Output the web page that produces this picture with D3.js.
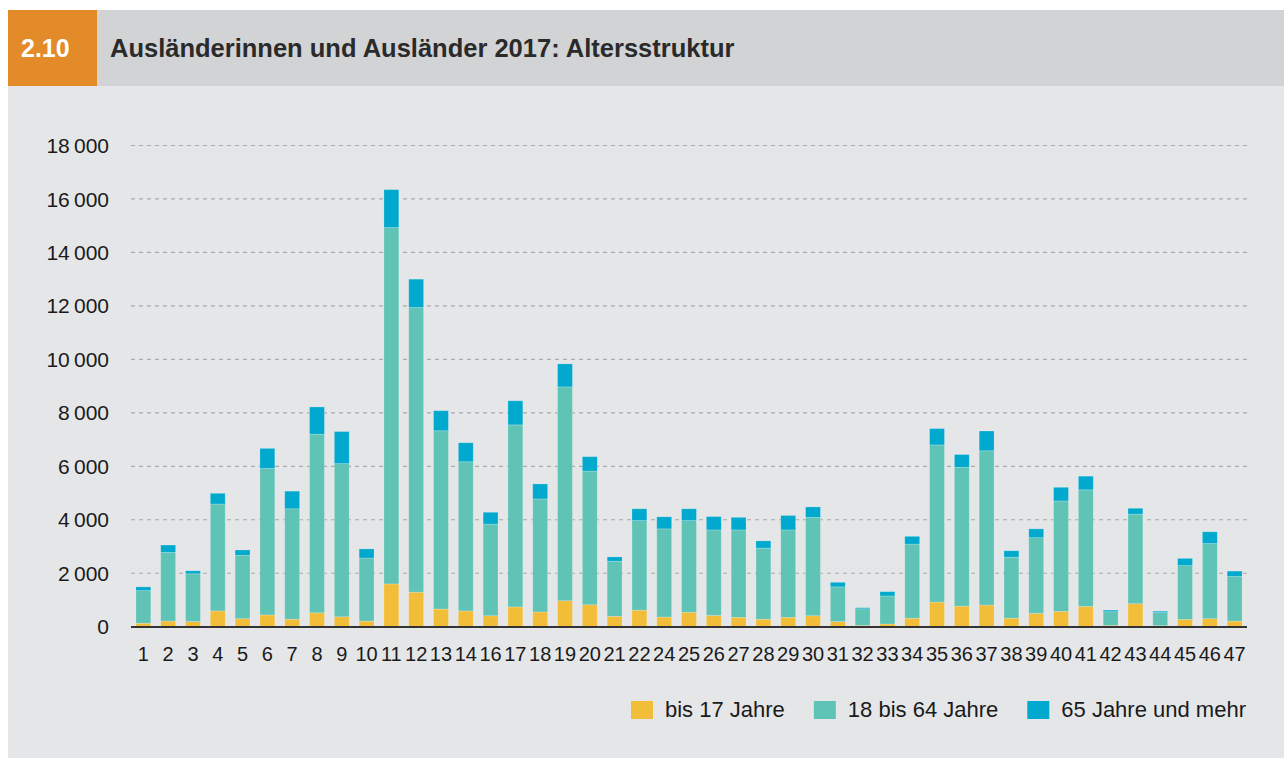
<!DOCTYPE html>
<html>
<head>
<meta charset="utf-8">
<title>Ausländerinnen und Ausländer 2017</title>
<script src="https://cdn.jsdelivr.net/npm/d3@7"></script>
<style>
  body { margin: 0; background: #fff; }
  text { font-family: "Liberation Sans", Arial, sans-serif; }
</style>
</head>
<body>
<script>
// Kategorien (Stadtteile), 15 und 23 fehlen
var categories = [1,2,3,4,5,6,7,8,9,10,11,12,13,14,16,17,18,19,20,21,22,24,25,26,27,28,29,30,31,32,33,34,35,36,37,38,39,40,41,42,43,44,45,46,47];
var bis17 =   [130,210,190,590,300,440,280,520,370,210,1600,1290,660,590,410,740,550,970,820,390,620,360,540,420,350,280,350,410,190,50,100,320,920,770,810,320,500,574,760,50,860,40,275,300,210];
var von18bis64 = [1220,2570,1790,4000,2370,5480,4130,6680,5730,2360,13330,10650,6670,5580,3430,6810,4230,8000,5000,2060,3350,3300,3430,3200,3270,2660,3270,3680,1300,620,1050,2770,5880,5190,5770,2280,2830,4130,4360,510,3350,490,2010,2810,1670];
var ab65 =    [140,275,110,400,200,750,660,1020,1200,340,1420,1060,750,710,440,900,560,860,540,160,440,450,440,500,470,270,540,390,170,40,160,290,610,480,740,240,330,510,510,60,220,50,270,440,200];
var seriesNames = ["bis 17 Jahre", "18 bis 64 Jahre", "65 Jahre und mehr"];
var seriesKeys = ["a", "b", "c"];
var colors = ["#f2bd38", "#5fc4b5", "#00a9cd"];
var yTicks = [0,2000,4000,6000,8000,10000,12000,14000,16000,18000];

var W = 1284, H = 758;
var svg = d3.select("body").append("svg").attr("width", W).attr("height", H);

// Hintergrund
svg.append("rect").attr("x", 8).attr("y", 10).attr("width", W - 8).attr("height", H - 10).attr("fill", "#e5e6e8");
svg.append("rect").attr("x", 8).attr("y", 10).attr("width", W - 8).attr("height", 76).attr("fill", "#d2d3d5");
svg.append("rect").attr("x", 8).attr("y", 10).attr("width", 89).attr("height", 76).attr("fill", "#e38a29");
svg.append("text").attr("x", 21).attr("y", 57).text("2.10")
    .attr("fill", "#fff").style("font-weight", "bold").style("font-size", "25px");
svg.append("text").attr("x", 110).attr("y", 57).text("Ausländerinnen und Ausländer 2017: Altersstruktur")
    .attr("fill", "#2a2a2a").style("font-weight", "bold").style("font-size", "25.5px");

var data = categories.map(function(c, i) {
    return {cat: c, a: bis17[i], b: von18bis64[i], c: ab65[i]};
});

var x = d3.scaleBand().domain(categories).range([126, 1252]).padding(0.4);
var y = d3.scaleLinear().domain([0, 18000]).range([626.7, 145.5]);

var fmt = function(d) {
    var s = String(d);
    return s.length > 3 ? s.slice(0, s.length - 3) + "\u2009" + s.slice(-3) : s;
};

// Gitterlinien
svg.selectAll(".grid").data(yTicks.slice(1)).enter().append("line")
    .attr("class", "grid")
    .attr("x1", 131).attr("x2", 1247)
    .attr("y1", function(d){ return y(d); }).attr("y2", function(d){ return y(d); })
    .attr("stroke", "#a9aaac").attr("stroke-width", 1.2).attr("stroke-dasharray", "4,4");

svg.selectAll(".ylab").data(yTicks).enter().append("text")
    .attr("class", "ylab")
    .attr("x", 109).attr("y", function(d){ return y(d); }).attr("dy", "0.36em")
    .attr("text-anchor", "end").attr("fill", "#1a1a1a").style("font-size", "21px")
    .text(fmt);

// Balken
var stack = d3.stack().keys(seriesKeys)(data);
svg.selectAll(".layer").data(stack).enter().append("g")
    .attr("class", "layer")
    .attr("fill", function(d, i){ return colors[i]; })
    .selectAll("rect").data(function(d){ return d; }).enter().append("rect")
    .attr("x", function(d){ return x(d.data.cat); })
    .attr("width", x.bandwidth())
    .attr("y", function(d){ return y(d[1]); })
    .attr("height", function(d){ return y(d[0]) - y(d[1]); })
    .attr("stroke", "rgba(255,255,255,0.25)").attr("stroke-width", 0.8);

// Grundlinie
svg.append("line").attr("x1", 131).attr("x2", 1247).attr("y1", 627).attr("y2", 627)
    .attr("stroke", "#333").attr("stroke-width", 2);

svg.selectAll(".xlab").data(categories).enter().append("text")
    .attr("class", "xlab")
    .attr("x", function(d){ return x(d) + x.bandwidth() / 2; }).attr("y", 661)
    .attr("text-anchor", "middle").attr("fill", "#1a1a1a").style("font-size", "20px")
    .text(function(d){ return d; });

// Legende
var lx = 631;
seriesNames.forEach(function(n, i) {
    svg.append("rect").attr("x", lx).attr("y", 701).attr("width", 22).attr("height", 18).attr("fill", colors[i]);
    var t = svg.append("text").attr("x", lx + 34).attr("y", 717).text(n)
        .attr("fill", "#1a1a1a").style("font-size", "22px");
    lx += 34 + t.node().getComputedTextLength() + 29;
});
</script>
</body>
</html>
